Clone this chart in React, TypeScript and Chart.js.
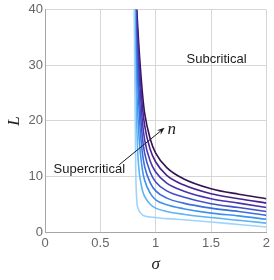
import React, { useEffect, useRef } from "react";
import { Chart, registerables } from "chart.js";

Chart.register(...registerables);

// σ sample points shared by all curves
const sigma = [0.80, 0.81, 0.82, 0.83, 0.84, 0.85, 0.86, 0.88, 0.90, 0.95, 1.0, 1.1, 1.25, 1.5, 1.75, 2.0];

// L values per curve (light -> dark, increasing n)
const L1 = [70, 30, 11, 5.5, 4.3, 3.8, 3.5, 3.1, 2.9, 2.7, 2.6, 2.4, 2.2, 1.8, 1.35, 0.9];
const L2 = [130, 38, 27, 18.5, 13.5, 11, 9.5, 7.5, 6.4, 5.0, 4.3, 3.7, 3.2, 2.6, 2.1, 1.6];
const L3 = [120, 48, 33, 25, 20.5, 17, 14.5, 11.2, 9.3, 7.0, 5.8, 4.9, 4.2, 3.4, 2.9, 2.3];
const L4 = [110, 60, 37, 30.7, 26, 22, 18.5, 14.2, 11.8, 8.9, 7.4, 6.1, 5.2, 4.3, 3.7, 3.0];
const L5 = [100, 65, 39, 34, 29, 25.5, 22, 17, 14.2, 10.8, 9.0, 7.4, 6.3, 5.1, 4.4, 3.7];
const L6 = [90, 62, 43, 36.5, 32.5, 28.7, 25.5, 19.8, 16.6, 12.8, 10.8, 8.8, 7.4, 6.0, 5.2, 4.4];
const L7 = [80, 58, 45, 38.3, 34.5, 31.1, 27.8, 22.7, 19.2, 14.9, 12.6, 10.2, 8.5, 6.9, 6.0, 5.2];
const L8 = [70, 55, 46, 40, 36.2, 32.8, 30, 25, 21.4, 16.8, 14.2, 11.6, 9.6, 7.8, 6.8, 6.0];

const curves = [L1, L2, L3, L4, L5, L6, L7, L8];
const colors = ["#9ed4fb", "#5db3f5", "#3f93ea", "#3a70dc", "#4151c7", "#4934af", "#482292", "#36134e"];

const xTicks = [0, 0.5, 1, 1.5, 2];
const yTicks = [0, 10, 20, 30, 40];

// annotation anchors (data coordinates)
const subLabel = { text: "Subcritical", x: 1.55, y: 31.1 };
const supLabel = { text: "Supercritical", x: 0.4, y: 11.2 };
const arrowFrom = { x: 0.67, y: 12.1 };
const arrowTo = { x: 1.08, y: 18.75 };
const nLabel = { text: "n", x: 1.145, y: 18.4 };

const annotationPlugin = {
  id: "annot",
  afterDatasetsDraw(chart: any) {
    const { ctx, scales } = chart;
    const xs = scales.x;
    const ys = scales.y;
    const px = (v: number) => xs.getPixelForValue(v);
    const py = (v: number) => ys.getPixelForValue(v);
    ctx.save();
    ctx.fillStyle = "#1a1a1a";
    ctx.font = "13px 'Liberation Sans', Arial, sans-serif";
    ctx.textAlign = "center";
    ctx.textBaseline = "middle";
    ctx.fillText(subLabel.text, px(subLabel.x), py(subLabel.y));
    ctx.fillText(supLabel.text, px(supLabel.x), py(supLabel.y));
    // arrow
    const x0 = px(arrowFrom.x), y0 = py(arrowFrom.y);
    const x1 = px(arrowTo.x), y1 = py(arrowTo.y);
    const ang = Math.atan2(y1 - y0, x1 - x0);
    const head = 8;
    ctx.strokeStyle = "#1a1a1a";
    ctx.lineWidth = 1;
    ctx.beginPath();
    ctx.moveTo(x0, y0);
    ctx.lineTo(x1 - Math.cos(ang) * head * 0.6, y1 - Math.sin(ang) * head * 0.6);
    ctx.stroke();
    ctx.beginPath();
    ctx.moveTo(x1, y1);
    ctx.lineTo(x1 - head * Math.cos(ang - 0.38), y1 - head * Math.sin(ang - 0.38));
    ctx.lineTo(x1 - head * 0.6 * Math.cos(ang), y1 - head * 0.6 * Math.sin(ang));
    ctx.lineTo(x1 - head * Math.cos(ang + 0.38), y1 - head * Math.sin(ang + 0.38));
    ctx.closePath();
    ctx.fill();
    ctx.font = "italic 17px 'Liberation Serif', 'Times New Roman', serif";
    ctx.fillText(nLabel.text, px(nLabel.x), py(nLabel.y));
    ctx.restore();
  },
};

export default function App() {
  const ref = useRef<HTMLCanvasElement | null>(null);
  useEffect(() => {
    if (!ref.current) return;
    const tickFont = { family: "'Liberation Sans', Arial, sans-serif", size: 13 };
    const chart = new Chart(ref.current, {
      type: "line",
      data: {
        datasets: curves.map((c, i) => ({
          label: "n" + (i + 1),
          data: sigma.map((s, j) => ({ x: s, y: c[j] })),
          borderColor: colors[i],
          borderWidth: 1.6,
          pointRadius: 0,
          fill: false,
          cubicInterpolationMode: "monotone" as const,
        })),
      },
      options: {
        responsive: false,
        animation: false,
        events: [],
        layout: { padding: { top: 8, right: 5, left: 0, bottom: 0 } },
        plugins: { legend: { display: false }, tooltip: { enabled: false } },
        scales: {
          x: {
            type: "linear",
            min: 0,
            max: 2,
            afterBuildTicks: (s: any) => {
              s.ticks = xTicks.map((v) => ({ value: v }));
            },
            afterFit: (s: any) => {
              s.height = 48;
            },
            ticks: { font: tickFont, color: "#666", padding: 4, maxRotation: 0, callback: (v: any) => String(v) },
            grid: { color: "#d6d6d6", drawTicks: false },
            border: { color: "#a6a6a6" },
            title: {
              display: true,
              text: "σ",
              color: "#222",
              font: { family: "'Liberation Serif', 'Times New Roman', serif", size: 17, style: "italic" },
              padding: { top: 0, bottom: 5 },
            },
          },
          y: {
            type: "linear",
            min: 0,
            max: 40,
            afterBuildTicks: (s: any) => {
              s.ticks = yTicks.map((v) => ({ value: v }));
            },
            afterFit: (s: any) => {
              s.width = 45;
            },
            ticks: { font: tickFont, color: "#666", padding: 2, callback: (v: any) => String(v) },
            grid: { color: "#d6d6d6", drawTicks: false },
            border: { color: "#a6a6a6" },
            title: {
              display: true,
              text: "L",
              color: "#222",
              font: { family: "'Liberation Serif', 'Times New Roman', serif", size: 17, style: "italic" },
              padding: { top: 4, bottom: 0 },
            },
          },
        },
      },
      plugins: [annotationPlugin],
    });
    return () => chart.destroy();
  }, []);
  return (
    <div style={{ position: "fixed", left: 0, top: 0, width: 274, height: 280, background: "#fff" }}>
      <canvas ref={ref} width={274} height={280} style={{ display: "block" }} />
    </div>
  );
}
